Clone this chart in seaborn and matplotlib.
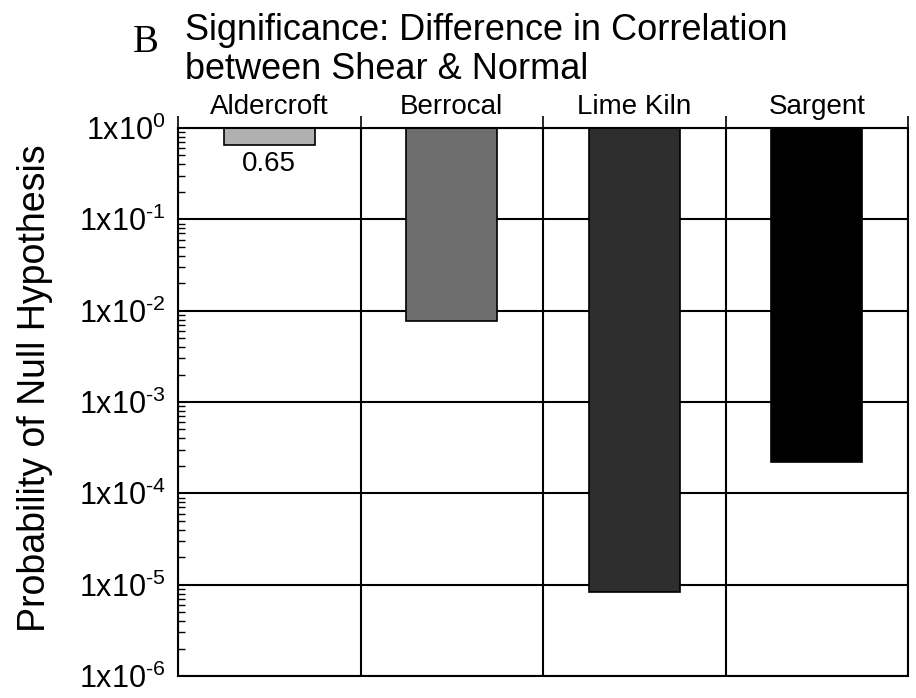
import numpy as np
import pandas as pd
import seaborn as sns
import matplotlib
matplotlib.use("Agg")
import matplotlib.pyplot as plt
from matplotlib.ticker import FixedLocator, FuncFormatter

# data
sites = ["Aldercroft", "Berrocal", "Lime Kiln", "Sargent"]
p_values = [0.65, 0.0077, 8.3e-6, 2.2e-4]
bar_colors = ["#b0b0b0", "#6e6e6e", "#2d2d2d", "#000000"]
decades = [-6, -5, -4, -3, -2, -1, 0]

sns.set_style("white")
plt.rcParams["font.family"] = ["Liberation Sans", "DejaVu Sans"]
plt.rcParams["mathtext.fontset"] = "custom"
plt.rcParams["mathtext.rm"] = "Liberation Sans"
plt.rcParams["mathtext.default"] = "regular"
plt.rcParams["text.color"] = "black"
plt.rcParams["xtick.color"] = "black"
plt.rcParams["ytick.color"] = "black"

df = pd.DataFrame({"site": sites, "logp": np.log10(p_values)})

fig = plt.figure(figsize=(9.16, 6.98), dpi=100)
ax = fig.add_axes([178 / 916, 1 - 676 / 698, (908 - 178) / 916, (676 - 128) / 698])

# bars hang down from 1x10^0 (log10 = 0)
sns.barplot(data=df, x="site", y="logp", hue="site", palette=bar_colors,
            legend=False, width=0.5, edgecolor="black", linewidth=1.2, ax=ax)

ax.set_xlim(-0.5, 3.5)
ax.set_ylim(-6, 0)

# y axis: decades with log minor ticks
minor_y = [d + np.log10(m) for d in decades[:-1] for m in range(2, 10)]
ax.yaxis.set_major_locator(FixedLocator(decades))
ax.yaxis.set_minor_locator(FixedLocator(minor_y))
ax.yaxis.set_major_formatter(
    FuncFormatter(lambda v, pos: "1x10$^{\\text{%d}}$" % int(round(v))))
ax.tick_params(axis="y", which="major", direction="out", length=8, width=1.2,
               labelsize=22, pad=1, labelcolor="black")
ax.tick_params(axis="y", which="minor", direction="in", length=5, width=1, left=True)

# x axis: labels on top, boundary ticks
ax.xaxis.tick_top()
ax.xaxis.set_label_position("top")
ax.xaxis.set_minor_locator(FixedLocator([-0.5, 0.5, 1.5, 2.5, 3.5]))
ax.tick_params(axis="x", which="major", length=0, labelsize=20, pad=6, labelcolor="black")
ax.tick_params(axis="x", which="minor", top=True, direction="out", length=9, width=1.2)
ax.set_xlabel("")
ax.set_ylabel("")

ax.grid(True, axis="y", which="major", color="black", linewidth=1.5)
ax.grid(True, axis="x", which="minor", color="black", linewidth=1.5)
ax.set_axisbelow(True)
for s in ax.spines.values():
    s.set_color("black")
    s.set_linewidth(1.5)
    s.set_visible(True)

# value label under the small bar
ax.text(0, np.log10(p_values[0]) - 0.06, f"{p_values[0]:.2f}", ha="center", va="top", fontsize=20)

fig.text(133 / 916, 1 - 52 / 698, "B", family="Liberation Serif", fontsize=28, ha="left", va="baseline")
fig.text(185 / 916, 1 - 40 / 698, "Significance: Difference in Correlation", fontsize=26, ha="left", va="baseline")
fig.text(185 / 916, 1 - 79 / 698, "between Shear & Normal", fontsize=26, ha="left", va="baseline")
fig.text(35 / 916, 1 - 388 / 698, "Probability of Null Hypothesis", fontsize=27, rotation=90,
         ha="center", va="center")

fig.savefig("out.png", dpi=100, facecolor="white")
